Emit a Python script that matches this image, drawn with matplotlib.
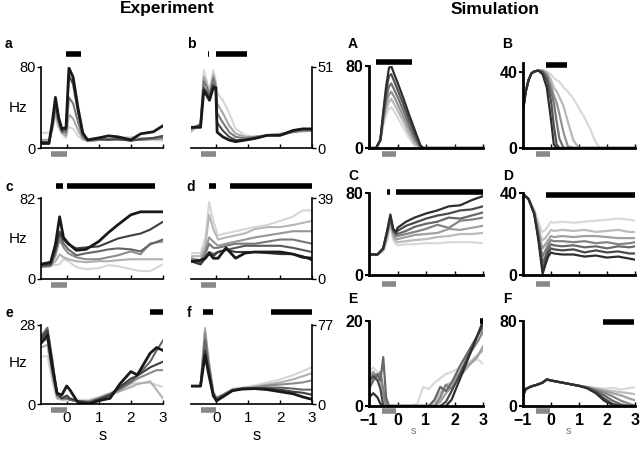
import matplotlib
import matplotlib.pyplot as plt

matplotlib.use('Agg')
plt.rcParams['font.family'] = ['Liberation Sans', 'DejaVu Sans']

W, H = 640, 451

# ---------------- Experiment (lines ordered light -> dark) ----------------
t_a = [-0.8, -0.55, -0.45, -0.35, -0.25, -0.15, -0.02, 0.07, 0.2, 0.35, 0.5, 0.65,
       1.0, 1.3, 1.6, 2.0, 2.3, 2.7, 3.0]
a_lines = [
    [15, 15, 20, 30, 20, 14, 10, 21, 19, 12, 8, 7, 8, 9, 10, 11, 10, 8, 7],
    [8, 8, 18, 35, 22, 15, 12, 33, 29, 18, 9, 7, 8, 8, 9, 9, 8, 9, 9],
    [6, 6, 20, 40, 25, 16, 15, 50, 44, 26, 11, 7, 8, 9, 8, 8, 8, 9, 10],
    [4, 4, 22, 46, 28, 17, 18, 72, 63, 36, 14, 8, 9, 8, 9, 7, 9, 10, 12],
    [5, 5, 25, 50, 30, 19, 20, 79, 70, 40, 15, 8, 10, 12, 11, 8, 14, 16, 22],
]

t_b = [-0.8, -0.5, -0.4, -0.3, -0.22, -0.1, -0.02, 0.02, 0.2, 0.4, 0.6, 0.9, 1.2,
       1.6, 2.0, 2.4, 2.7, 3.0]
b_lines = [
    [10, 15, 49, 42, 36, 49, 42, 35, 30, 22, 12, 8, 7, 8, 9, 10, 10, 11],
    [11, 15, 45, 40, 34, 46, 40, 28, 22, 14, 9, 7, 7, 8, 9, 10, 11, 11],
    [12, 15, 42, 38, 33, 44, 38, 22, 16, 10, 7, 6, 7, 8, 8, 10, 11, 11],
    [13, 14, 38, 35, 32, 40, 36, 16, 11, 7, 5, 5, 6, 8, 8, 11, 12, 12],
    [13, 13, 36, 33, 30, 38, 38, 10, 7, 5, 4, 5, 6, 8, 8, 11, 12, 12],
]

t_c = [-0.8, -0.5, -0.35, -0.22, -0.1, 0.05, 0.3, 0.6, 1.0, 1.3, 1.6, 2.0, 2.3, 2.6, 3.0]
c_lines = [
    [14, 14, 14, 15, 20, 18, 12, 10, 11, 14, 13, 10, 8, 8, 15],
    [13, 13, 18, 25, 22, 20, 18, 17, 18, 18, 19, 20, 20, 20, 20],
    [12, 13, 24, 40, 32, 26, 22, 20, 20, 22, 24, 28, 25, 36, 38],
    [13, 14, 28, 45, 36, 30, 24, 26, 28, 30, 31, 30, 28, 35, 40],
    [14, 15, 30, 48, 40, 35, 31, 32, 33, 37, 41, 44, 46, 50, 58],
    [15, 17, 35, 63, 42, 36, 29, 30, 38, 47, 55, 65, 68, 68, 68],
]

t_d = [-0.8, -0.5, -0.35, -0.23, -0.1, 0.05, 0.3, 0.6, 0.9, 1.2, 1.6, 2.0, 2.4, 2.7, 3.0]
d_lines = [
    [12.5, 12.5, 20, 37, 28, 21, 22, 23, 24, 25, 26, 28, 30, 33, 33],
    [11, 11, 16, 31, 24, 19, 20, 21, 22, 24, 25, 25, 26, 27, 28],
    [10, 9, 14, 20, 18, 16, 17, 18, 19, 20, 21, 22, 23, 23, 23],
    [9, 8, 12, 17, 15, 15, 16, 17, 17, 17, 18, 19, 19, 18, 17],
    [9, 8, 10, 13, 12, 13, 14, 15, 16, 16, 16, 16, 15, 14, 13],
    [8.5, 7, 10, 12, 11, 13, 14, 13, 13, 13, 12.5, 12, 12, 11, 9],
    [8.5, 9, 10, 12.5, 10, 10, 15, 10, 12.5, 13, 13, 13, 12, 10.5, 10],
]

t_e = [-0.8, -0.6, -0.45, -0.3, -0.15, 0.0, 0.1, 0.35, 0.7, 1.0, 1.35, 1.65, 2.0, 2.2,
       2.6, 2.8, 3.0]
e_lines = [
    [16.8, 17, 8, 2, 1.5, 1, 1.5, 1.5, 1.5, 2.5, 4, 5, 7, 7.5, 7.5, 6.7, 6],
    [20, 21, 10, 2, 1.5, 2, 1.5, 1, 1, 2, 3, 4.5, 6, 7, 8, 5, 2],
    [22, 23, 12, 3, 2, 2, 1.5, 1, 1, 2, 3.5, 5, 7.5, 9, 11, 12, 12],
    [24, 27, 16, 3, 2, 2, 1.5, 1, 0.5, 2, 3.5, 5.5, 8, 10, 15, 19, 22.5],
    [23, 26, 15, 4, 2, 3, 2, 1, 0.5, 1.5, 3, 6, 9, 10, 13, 14, 15],
    [21.5, 24.5, 13, 3.8, 3.2, 6.4, 5, 0.5, 0, 1.2, 2, 7, 11.5, 10.3, 18, 20, 19],
]

t_f = [-0.8, -0.5, -0.36, -0.25, -0.1, 0.0, 0.2, 0.5, 0.8, 1.2, 1.6, 2.0, 2.4, 2.7, 3.0]
f_lines = [
    [17.5, 17.5, 60, 36, 10, 6, 9, 15, 16, 18, 21, 24, 28, 32, 36],
    [17.5, 17.5, 74, 44, 12, 6, 9, 14, 15.5, 17, 19, 21, 24, 27, 30],
    [17.5, 17.5, 70, 42, 11, 6, 9, 14, 15, 16, 18, 19, 20, 21, 23],
    [17.5, 17.5, 62, 38, 10, 5, 8, 13, 15, 15.5, 16, 16, 15, 14, 14],
    [17.5, 17.5, 52, 33, 9, 4, 8, 13, 15, 15, 15, 14, 12, 11, 9],
    [17.5, 17.5, 48, 30, 8, 3, 7, 13, 14.5, 15, 14, 12, 10, 7, 4.5],
]

# ---------------- Simulation ----------------
t_A = [-1, -0.75, -0.6, -0.5, -0.4, -0.3, -0.22, -0.1, 0.0, 0.2, 0.4, 0.6, 0.8, 0.9, 1.2, 3.0]
A_lines = [
    [0, 0, 7, 22, 32, 38, 40, 35, 30, 20, 10, 2, 0, 0, 0, 0],
    [0, 0, 7, 25, 37, 45, 48, 42, 37, 26, 14, 4, 0, 0, 0, 0],
    [0, 0, 8, 28, 43, 52, 55, 49, 43, 31, 19, 7, 0.5, 0, 0, 0],
    [0, 0, 8, 30, 48, 60, 63, 56, 50, 37, 23, 10, 1, 0, 0, 0],
    [0, 0, 8, 33, 55, 70, 72, 64, 57, 43, 28, 14, 2, 0, 0, 0],
    [0, 0, 8, 35, 60, 78, 80, 71, 64, 49, 33, 18, 3, 0, 0, 0],
]

t_B = [-1, -0.9, -0.8, -0.7, -0.6, -0.45, -0.3, -0.15, 0.0, 0.1, 0.2, 0.3, 0.45, 0.6,
       0.8, 1.0, 1.2, 1.4, 1.6, 1.75, 3.0]
B_lines = [
    [20, 30, 36, 39.5, 40.5, 41, 41, 40.5, 39, 37, 36, 35, 32, 30, 26, 21, 16, 10, 3, 0, 0],
    [20, 30, 36, 39.5, 40.5, 41, 41, 40, 36, 32, 30, 27, 22, 14, 4, 0, 0, 0, 0, 0, 0],
    [20, 30, 36, 39.5, 40.5, 41, 41, 39, 33, 28, 24, 18, 8, 1, 0, 0, 0, 0, 0, 0, 0],
    [20, 30, 36, 39.5, 40.5, 41, 40.5, 38, 30, 24, 14, 5, 0, 0, 0, 0, 0, 0, 0, 0, 0],
    [20, 30, 36, 39.5, 40.5, 41, 40, 36, 25, 12, 2, 0, 0, 0, 0, 0, 0, 0, 0, 0, 0],
    [20, 30, 36, 39.5, 40.5, 41, 39, 32, 15, 2, 0, 0, 0, 0, 0, 0, 0, 0, 0, 0, 0],
]

t_C = [-1, -0.7, -0.5, -0.35, -0.25, -0.15, -0.05, 0.0, 0.3, 0.6, 1.0, 1.4, 1.8, 2.2, 2.6, 3.0]
C_lines = [
    [20, 20, 23, 35, 50, 34, 30, 29, 30, 30, 31, 31, 32, 32, 32, 31],
    [20, 20, 24, 38, 52, 37, 33, 32, 33, 34, 35, 37, 38, 40, 40, 41],
    [20, 20, 25, 40, 54, 40, 35, 35, 37, 39, 40, 41, 45, 44, 46, 48],
    [20, 20, 26, 42, 55, 42, 38, 38, 40, 42, 45, 49, 46, 53, 54, 56],
    [20, 20, 26, 43, 56, 43, 40, 40, 43, 47, 50, 52, 56, 55, 58, 61],
    [20, 20, 26, 44, 57, 44, 41, 43, 48, 51, 55, 58, 60, 63, 64, 67],
    [20, 20, 26, 45, 59, 45, 42, 46, 52, 56, 60, 63, 67, 68, 73, 77],
]

t_D = [-1, -0.8, -0.6, -0.45, -0.35, -0.3, -0.2, -0.1, 0.0, 0.1, 0.4, 0.8, 1.2, 1.6,
       2.0, 2.4, 2.8, 3.0]
D_lines = [
    [39.5, 37, 32, 26, 22, 21, 22, 24, 26, 25.5, 26, 25.5, 26, 26.5, 27, 27.5, 27, 26.5],
    [39.5, 37, 31, 24, 18, 17, 18, 20, 22, 21.5, 22, 21.5, 22, 21, 21.5, 22, 21, 21],
    [39.5, 37, 31, 22, 15, 13, 15, 17, 19, 18.5, 19, 18.5, 19, 19, 18.5, 18, 18, 18],
    [39.5, 37, 30, 20, 12, 9, 12, 15, 17, 16.5, 16.5, 16, 16.5, 15.5, 16, 15, 15.5, 16],
    [39.5, 37, 30, 19, 10, 6, 9, 13, 15, 14.5, 14, 14.5, 13.5, 14, 13, 14, 13.5, 14],
    [39.5, 37, 30, 18, 8, 3, 7, 11, 13, 12.5, 12, 12.5, 11, 12, 11, 11.5, 10.5, 10.5],
    [39.5, 37, 30, 17, 6, 0.5, 5, 9, 11, 10.5, 10, 10, 9, 9.5, 8.5, 9, 8, 7.5],
]

t_E = [-1, -0.85, -0.7, -0.6, -0.5, -0.4, -0.3, 0.5, 0.7, 0.9, 1.1, 1.3, 1.5, 1.7,
       1.9, 2.2, 2.5, 2.8, 3.0]
E_lines = [
    [8, 9, 8, 5, 1, 0, 0, 0, 0.5, 4.5, 4, 5.5, 6.5, 7.5, 8, 9, 10, 11, 10],
    [6, 8, 7, 6, 2, 0, 0, 0, 0, 0, 0, 1, 3, 5, 5.5, 8, 10, 12, 13],
    [7, 8, 6, 7, 3, 0, 0, 0, 0, 0, 0, 0, 1, 3, 4.5, 7, 9.5, 11.5, 14],
    [5, 7.5, 7, 8, 4, 0, 0, 0, 0, 0, 0, 0, 2, 5, 4, 8, 12, 15, 17.5],
    [4, 6, 7.5, 6, 11.5, 2, 0, 0, 0, 0, 0, 1.5, 4.5, 3.5, 5.5, 9.5, 13, 16.5, 18.5],
    [6, 7, 6, 4, 0, 0, 0, 0, 0, 0, 0, 0, 0, 1, 3.5, 7.5, 12, 16.5, 19.5],
    [2, 3, 2, 0.5, 0, 0, 0, 0, 0, 0, 0, 0, 0, 0, 1.5, 6.5, 11.5, 16.5, 20],
]

t_F = [-1, -0.9, -0.7, -0.5, -0.3, -0.15, 0.0, 0.3, 0.6, 1.0, 1.3, 1.6, 1.9, 2.2, 2.5,
       2.8, 3.0]
F_lines = [
    [10, 16, 18.5, 20, 22, 25, 24, 22.5, 21, 19, 18, 17, 16.5, 17, 15.5, 17, 17.5],
    [10, 16, 18.5, 20, 22, 25, 24, 22.5, 21, 19, 18, 16.5, 15, 14, 13, 12, 11],
    [10, 16, 18.5, 20, 22, 25, 24, 22.5, 21, 19, 17.5, 16, 14, 12, 10, 7, 5.5],
    [10, 16, 18.5, 20, 22, 25, 24, 22.5, 21, 19, 17.5, 15, 12.5, 9, 5, 2, 0.5],
    [10, 16, 18.5, 20, 22, 25, 24, 22.5, 21, 19, 17, 14, 10, 5, 1.5, 0, 0],
    [10, 16, 18.5, 20, 22, 25, 24, 22.5, 21, 19, 17, 13, 7, 2, 0, 0, 0],
    [10, 16, 18.5, 20, 22, 25, 24, 22.5, 21, 19, 16.5, 12, 5, 1, 0, 0, 0],
]

# significance bars (start, end) in seconds
sig_a = [(-0.03, 0.45)]
sig_b = [(-0.27, -0.22), (0.0, 0.95)]
sig_c = [(-0.33, -0.1), (0.0, 2.76)]
sig_d = [(-0.22, 0.0), (0.41, 3.0)]
sig_e = [(2.58, 3.0)]
sig_f = [(-0.43, -0.1), (1.7, 3.0)]
sig_A = [(-0.76, 0.5)]
sig_B = [(-0.17, 0.57)]
sig_C = [(-0.38, -0.27), (-0.06, 3.0)]
sig_D = [(-0.17, 3.0)]
sig_E = [(2.88, 3.0)]
sig_F = [(1.87, 2.95)]

fig = plt.figure(figsize=(W / 100, H / 100), dpi=100)


def rect(l, t, r, b):
    return [l / W, 1 - b / H, (r - l) / W, (b - t) / H]


def grays(n, lo=0.84, hi=0.1):
    return [str(lo + (hi - lo) * i / (n - 1)) for i in range(n)]


def exp_panel(box, t, lines, top, side, sig, sig_y, bottom=False):
    ax = fig.add_axes(rect(*box))
    cols = grays(len(lines))
    for i, (y, c) in enumerate(zip(lines, cols)):
        last = i == len(lines) - 1
        ax.plot(t, y, color=c, lw=2.0 if last else 1.5, solid_joinstyle='round')
    ax.set_xlim(-0.8, 3)
    ax.set_ylim(0, top)
    for s in ['top', 'left', 'right']:
        ax.spines[s].set_visible(False)
    ax.spines[side].set_visible(True)
    for s in ['bottom', side]:
        ax.spines[s].set_linewidth(1.2)
    ax.set_xticks([0, 1, 2, 3])
    ax.set_yticks([0, top])
    ax.tick_params(axis='x', direction='in', length=3, width=1, labelsize=11,
                   labelbottom=bottom, pad=5)
    ax.tick_params(axis='y', direction='out', length=3, width=1, labelsize=10.5, pad=1)
    if side == 'right':
        ax.yaxis.tick_right()
    for x0, x1 in sig:
        ax.plot([x0, x1], [sig_y, sig_y], transform=ax.get_xaxis_transform(),
                color='black', lw=4, clip_on=False, solid_capstyle='butt')
    ax.plot([-0.5, 0], [-0.07, -0.07], transform=ax.get_xaxis_transform(),
            color='#888888', lw=4, clip_on=False, solid_capstyle='butt')
    return ax


def sim_panel(box, t, lines, top, ticks, sig, sig_y, stim_y, bottom=False):
    ax = fig.add_axes(rect(*box))
    cols = grays(len(lines), 0.85, 0.18)
    for y, c in zip(lines, cols):
        ax.plot(t, y, color=c, lw=1.6)
    ax.set_xlim(-1, 3)
    ax.set_ylim(0, top)
    ax.spines['top'].set_visible(False)
    ax.spines['right'].set_visible(False)
    ax.spines['left'].set_linewidth(2)
    ax.spines['bottom'].set_linewidth(2)
    ax.set_xticks([-1, 0, 1, 2, 3])
    ax.set_yticks(ticks)
    ax.tick_params(axis='x', direction='in', length=3, width=1, labelsize=11.5,
                   labelbottom=bottom, pad=5)
    ax.tick_params(axis='y', direction='out', length=3, width=1.5, labelsize=11.5, pad=1)
    for lab in ax.get_xticklabels() + ax.get_yticklabels():
        lab.set_fontweight('bold')
    for x0, x1 in sig:
        ax.plot([x0, x1], [sig_y, sig_y], transform=ax.get_xaxis_transform(),
                color='black', lw=4, clip_on=False, solid_capstyle='butt')
    ax.plot([-0.55, -0.05], [stim_y, stim_y], transform=ax.get_xaxis_transform(),
            color='#888888', lw=4, clip_on=False, solid_capstyle='butt')
    return ax


# Experiment
exp_panel((41, 67, 163, 148), t_a, a_lines, 80, 'left', sig_a, 1.16)
exp_panel((191, 67, 312, 148), t_b, b_lines, 51, 'right', sig_b, 1.16)
exp_panel((41, 198, 163, 279), t_c, c_lines, 82, 'left', sig_c, 1.15)
exp_panel((191, 198, 312, 279), t_d, d_lines, 39, 'right', sig_d, 1.15)
exp_panel((41, 325, 163, 404), t_e, e_lines, 28, 'left', sig_e, 1.16, bottom=True)
exp_panel((191, 325, 312, 404), t_f, f_lines, 77, 'right', sig_f, 1.16, bottom=True)

# Simulation
sim_panel((369, 66, 483, 148), t_A, A_lines, 80, [0, 80], sig_A, 1.05, -0.07)
sim_panel((523, 63, 635, 148), t_B, B_lines, 45, [0, 40], sig_B, 0.98, -0.07)
sim_panel((369, 193, 483, 275), t_C, C_lines, 80, [0, 80], sig_C, 1.01, -0.11)
sim_panel((523, 193, 635, 275), t_D, D_lines, 40, [0, 40], sig_D, 0.98, -0.11)
sim_panel((369, 321, 483, 406), t_E, E_lines, 20, [0, 20], sig_E, 1.0, -0.06, bottom=True)
sim_panel((523, 321, 635, 406), t_F, F_lines, 80, [0, 80], sig_F, 0.99, -0.06, bottom=True)

# headings and labels
fig.text(167 / W, 1 - 9 / H, 'Experiment', ha='center', va='center',
         fontsize=12.5, fontweight='bold')
fig.text(495 / W, 1 - 9 / H, 'Simulation', ha='center', va='center',
         fontsize=12.5, fontweight='bold')

for lab, x, y in [('a', 5, 44), ('b', 187, 44), ('c', 5, 187), ('d', 186, 187),
                  ('e', 5, 313), ('f', 187, 313)]:
    fig.text(x / W, 1 - y / H, lab, ha='left', va='center', fontsize=10, fontweight='bold')
for lab, x, y in [('A', 348, 44), ('B', 502, 44), ('C', 348, 176), ('D', 503, 176),
                  ('E', 348, 299), ('F', 503, 299)]:
    fig.text(x / W, 1 - y / H, lab, ha='left', va='center', fontsize=10, fontweight='bold')

for y in [108, 239, 363]:
    fig.text(18 / W, 1 - y / H, 'Hz', ha='center', va='center', fontsize=11)

fig.text(103 / W, 1 - 435 / H, 's', ha='center', va='center', fontsize=12)
fig.text(257 / W, 1 - 435 / H, 's', ha='center', va='center', fontsize=12)
fig.text(413 / W, 1 - 431 / H, 's', ha='center', va='center', fontsize=8, color='#777777')
fig.text(568 / W, 1 - 431 / H, 's', ha='center', va='center', fontsize=8, color='#777777')

fig.savefig('out.png', dpi=100)
